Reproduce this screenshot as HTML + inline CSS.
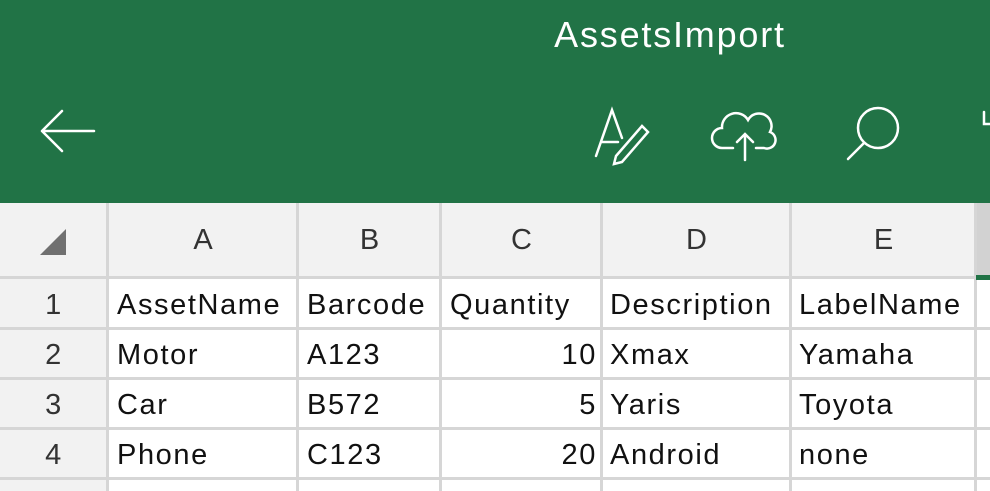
<!DOCTYPE html>
<html><head><meta charset="utf-8"><style>
body{margin:0;width:990px;height:491px;overflow:hidden;background:#fff;font-family:"Liberation Sans",sans-serif;position:relative}
.a{position:absolute;box-sizing:border-box}
.hl{position:absolute;left:0;width:990px;height:3px;background:#d6d6d6}
.vl{position:absolute;top:203px;width:3px;height:288px;background:#d6d6d6}
.t{position:absolute;font-size:29px;letter-spacing:1.6px;color:#111;line-height:50px;white-space:nowrap}
.h{position:absolute;font-size:29px;color:#333;line-height:74px;top:203px;text-align:center}
</style></head><body>
<div class="a" style="left:0;top:0;width:990px;height:203px;background:#217346"></div>
<div class="a" style="left:520px;top:12px;width:300px;text-align:center;color:#fff;font-size:36px;letter-spacing:1.8px;line-height:46px">AssetsImport</div>
<svg class="a" style="left:0;top:90px" width="990" height="80">
<g stroke="#fff" stroke-width="2.5" fill="none" stroke-linecap="round">
<g><path d="M42 41 H94 M42 41 L62 21 M42 41 L62 61"/></g>
<g><path d="M596 66 L612 20 L622 48 M601 52 H618 M616 66 L642 36 L648 42 L622 72 L614 74 Z"/></g>
<g><path d="M733 58 H722 A10 10 0 0 1 722 38 A14 14 0 0 1 748 30 A12 12 0 0 1 770 42 A8 8 0 0 1 764 58 H756 M745 70 V44 M737 52 L745 44 L753 52"/></g>
<g><circle cx="878" cy="38" r="20"/><path d="M864 53 L848 69"/></g>
<path d="M984 22 V34 H990"/>
</g></svg>
<div class="a" style="left:0;top:203px;width:990px;height:75px;background:#f2f2f2"></div>
<div class="a" style="left:0;top:278px;width:108px;height:213px;background:#f2f2f2"></div>
<div class="a" style="left:976px;top:203px;width:14px;height:75px;background:#d2d2d2"></div>
<svg class="a" style="left:40px;top:229px" width="26" height="26"><path d="M26 0 V26 H0 Z" fill="#707070"/></svg>
<div class="hl" style="top:276px"></div>
<div class="hl" style="top:327px"></div>
<div class="hl" style="top:377px"></div>
<div class="hl" style="top:427px"></div>
<div class="hl" style="top:477px"></div>
<div class="vl" style="left:106px"></div>
<div class="vl" style="left:296px"></div>
<div class="vl" style="left:439px"></div>
<div class="vl" style="left:600px"></div>
<div class="vl" style="left:789px"></div>
<div class="vl" style="left:974px"></div>
<div class="a" style="left:976px;top:275px;width:14px;height:5px;background:#217346"></div>
<div class="h" style="left:108px;width:190px">A</div>
<div class="h" style="left:298px;width:143px">B</div>
<div class="h" style="left:441px;width:161px">C</div>
<div class="h" style="left:602px;width:189px">D</div>
<div class="h" style="left:791px;width:185px">E</div>
<div class="t" style="left:0;width:108px;text-align:center;top:280px;color:#333">1</div>
<div class="t" style="left:0;width:108px;text-align:center;top:330px;color:#333">2</div>
<div class="t" style="left:0;width:108px;text-align:center;top:380px;color:#333">3</div>
<div class="t" style="left:0;width:108px;text-align:center;top:430px;color:#333">4</div>
<div class="t" style="left:117px;top:280px">AssetName</div>
<div class="t" style="left:307px;top:280px">Barcode</div>
<div class="t" style="left:450px;top:280px">Quantity</div>
<div class="t" style="left:610px;top:280px">Description</div>
<div class="t" style="left:799px;top:280px">LabelName</div>
<div class="t" style="left:117px;top:330px">Motor</div>
<div class="t" style="left:307px;top:330px">A123</div>
<div class="t" style="right:393px;top:330px">10</div>
<div class="t" style="left:610px;top:330px">Xmax</div>
<div class="t" style="left:799px;top:330px">Yamaha</div>
<div class="t" style="left:117px;top:380px">Car</div>
<div class="t" style="left:307px;top:380px">B572</div>
<div class="t" style="right:393px;top:380px">5</div>
<div class="t" style="left:610px;top:380px">Yaris</div>
<div class="t" style="left:799px;top:380px">Toyota</div>
<div class="t" style="left:117px;top:430px">Phone</div>
<div class="t" style="left:307px;top:430px">C123</div>
<div class="t" style="right:393px;top:430px">20</div>
<div class="t" style="left:610px;top:430px">Android</div>
<div class="t" style="left:799px;top:430px">none</div>
</body></html>
